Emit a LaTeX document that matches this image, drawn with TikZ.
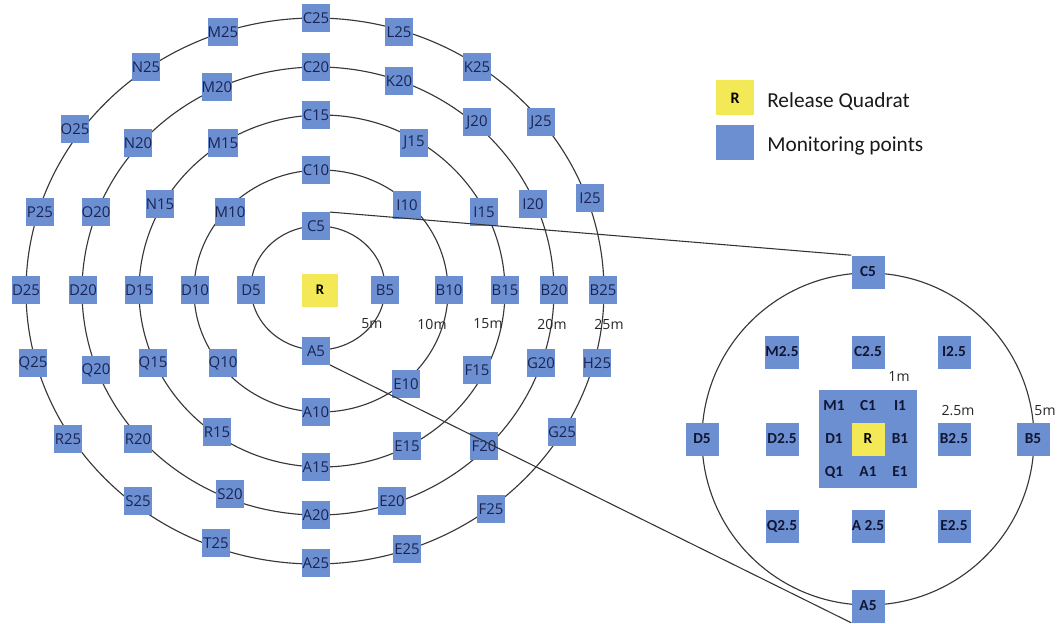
\documentclass[tikz,border=0pt]{standalone}
\usepackage{fontspec}
\setmainfont{Carlito}
\newfontfamily\ptfont{Open Sans}
\definecolor{ptblue}{RGB}{108,143,209}
\definecolor{relyellow}{RGB}{243,233,86}
\definecolor{ptnavy}{RGB}{26,36,84}

\begin{document}
\begin{tikzpicture}[x=0.75pt,y=0.75pt,yscale=-1,xscale=1,
  ring/.style={line width=0.85pt,draw=black!78},
  link/.style={line width=0.8pt,draw=black!80},
  mpt/.style={fill=ptblue,text=ptnavy,inner sep=0pt,minimum width=20.5pt,minimum height=20.5pt,font=\ptfont\fontsize{11.2}{13}\selectfont},
  ipt/.style={fill=ptblue,text=ptnavy!60!black,inner sep=0pt,minimum size=24.75pt,font=\bfseries\fontsize{11.5}{13}\selectfont},
  ilab/.style={text=ptnavy!60!black,inner sep=0pt,font=\bfseries\fontsize{11.5}{13}\selectfont},
  dist/.style={text=black!85,inner sep=0pt,font=\ptfont\fontsize{10.5}{12}\selectfont}]
\useasboundingbox (0,0) rectangle (1060,624);

%Shape: Ellipse [rings 5m .. 25m]
\draw[ring] (318,288) ellipse [x radius=67, y radius=62];
\draw[ring] (321,291) ellipse [x radius=127, y radius=121];
\draw[ring] (322,291) ellipse [x radius=183, y radius=176];
\draw[ring] (318,291) ellipse [x radius=236, y radius=224];
\draw[ring] (315,291) ellipse [x radius=289, y radius=273];
%Shape: Circle [zoomed 5m ring]
\draw[ring] (868,439) circle [radius=166];

% Release quadrat
\node[fill=relyellow,inner sep=0pt,minimum width=27pt,minimum height=24.75pt,font=\bfseries\fontsize{11}{13}\selectfont] (rel) at (320,290) {R};

% Text Node [5m]
\node[mpt] (C5) at (316,226) {C5};
\node[mpt] (B5) at (385,290) {B5};
\node[mpt] (A5) at (316,351) {A5};
\node[mpt] (D5) at (251,290) {D5};

% Text Node [10m]
\node[mpt] (C10) at (316,170) {C10};
\node[mpt] (I10) at (407,205) {I10};
\node[mpt] (B10) at (449,290) {B10};
\node[mpt] (E10) at (406,384) {E10};
\node[mpt] (A10) at (316,412) {A10};
\node[mpt] (Q10) at (223,363) {Q10};
\node[mpt] (D10) at (195,290) {D10};
\node[mpt] (M10) at (230,212) {M10};

% Text Node [15m]
\node[mpt] (C15) at (316,115) {C15};
\node[mpt] (J15) at (414,143) {J15};
\node[mpt] (I15) at (484,212) {I15};
\node[mpt] (B15) at (505,290) {B15};
\node[mpt] (F15) at (477,370) {F15};
\node[mpt] (E15) at (407,446) {E15};
\node[mpt] (A15) at (316,467) {A15};
\node[mpt] (R15) at (217,432) {R15};
\node[mpt] (Q15) at (153,363) {Q15};
\node[mpt] (D15) at (139,290) {D15};
\node[mpt] (N15) at (160,204) {N15};
\node[mpt] (M15) at (223,143) {M15};

% Text Node [20m]
\node[mpt] (C20) at (316,67) {C20};
\node[mpt] (K20) at (399,81) {K20};
\node[mpt] (J20) at (477,122) {J20};
\node[mpt] (I20) at (533,204) {I20};
\node[mpt] (B20) at (554,290) {B20};
\node[mpt] (G20) at (541,363) {G20};
\node[mpt] (F20) at (484,446) {F20};
\node[mpt] (E20) at (392,501) {E20};
\node[mpt] (A20) at (316,515) {A20};
\node[mpt] (S20) at (230,494) {S20};
\node[mpt] (R20) at (138,439) {R20};
\node[mpt] (Q20) at (96,370) {Q20};
\node[mpt] (D20) at (83,290) {D20};
\node[mpt] (O20) at (96,212) {O20};
\node[mpt] (N20) at (138,143) {N20};
\node[mpt] (M20) at (217,87) {M20};

% Text Node [25m]
\node[mpt] (C25) at (316,18) {C25};
\node[mpt] (L25) at (399,32) {L25};
\node[mpt] (K25) at (477,67) {K25};
\node[mpt] (J25) at (541,122) {J25};
\node[mpt] (I25) at (590,198) {I25};
\node[mpt] (B25) at (603,290) {B25};
\node[mpt] (H25) at (597,363) {H25};
\node[mpt] (G25) at (562,432) {G25};
\node[mpt] (F25) at (491,509) {F25};
\node[mpt] (E25) at (407,549) {E25};
\node[mpt] (A25) at (316,563) {A25};
\node[mpt] (T25) at (216,543) {T25};
\node[mpt] (S25) at (138,501) {S25};
\node[mpt] (R25) at (68,439) {R25};
\node[mpt] (Q25) at (33,363) {Q25};
\node[mpt] (D25) at (26,290) {D25};
\node[mpt] (P25) at (40,212) {P25};
\node[mpt] (O25) at (75,129) {O25};
\node[mpt] (N25) at (146,67) {N25};
\node[mpt] (M25) at (223,32) {M25};

% Text Node [distances]
\node[dist] (d5) at (372,324) {5m};
\node[dist] (d10) at (432,324) {10m};
\node[dist] (d15) at (488,324) {15m};
\node[dist] (d20) at (552,324) {20m};
\node[dist] (d25) at (609,324) {25m};

% Text Node [zoomed quadrat]
\node[fill=ptblue,inner sep=0pt,minimum size=73.5pt] (iSq) at (868,439) {};
\node[fill=relyellow,inner sep=0pt,minimum size=24.75pt,font=\bfseries\fontsize{11.5}{13}\selectfont] (iR) at (868,439) {R};
\node[ilab] (iM1) at (834,406) {M1};
\node[ilab] (iC1) at (868,406) {C1};
\node[ilab] (iI1) at (900,406) {I1};
\node[ilab] (iD1) at (834,439) {D1};
\node[ilab] (iB1) at (900,439) {B1};
\node[ilab] (iQ1) at (834,472) {Q1};
\node[ilab] (iA1) at (868,472) {A1};
\node[ilab] (iE1) at (900,472) {E1};

\node[ipt] (iM2) at (782,352) {M2.5};
\node[ipt] (iC2) at (868,352) {C2.5};
\node[ipt] (iI2) at (954,352) {I2.5};
\node[ipt] (iD2) at (782,439) {D2.5};
\node[ipt] (iB2) at (954,439) {B2.5};
\node[ipt] (iQ2) at (782,526) {Q2.5};
\node[ipt] (iA2) at (868,526) {A 2.5};
\node[ipt] (iE2) at (954,526) {E2.5};

\node[ipt] (iC5) at (868,272) {C5};
\node[ipt] (iB5) at (1033,439) {B5};
\node[ipt] (iA5) at (868,606) {A5};
\node[ipt] (iD5) at (702,439) {D5};

\node[dist] (i1m) at (899,377) {1m};
\node[dist] (i2m) at (958,411) {2.5m};
\node[dist] (i5m) at (1045,411) {5m};

%Straight Lines [zoom]
\draw[link] (C5.north east) -- (iC5.north west);
\draw[link] (A5.south east) -- (iA5.south west);

% Legend
\node[fill=relyellow,inner sep=0pt,minimum width=28.5pt,minimum height=26.25pt,font=\bfseries\fontsize{12}{14}\selectfont] (keyR) at (735,98) {R};
\node[fill=ptblue,inner sep=0pt,minimum width=28.5pt,minimum height=26.25pt] (keyM) at (735,143) {};
\node[anchor=base west,inner sep=0pt,text=black!90,font=\fontsize{16}{19}\selectfont] (keyRt) at (767,108) {Release Quadrat};
\node[anchor=base west,inner sep=0pt,text=black!90,font=\fontsize{16}{19}\selectfont] (keyMt) at (767,152) {Monitoring points};

\end{tikzpicture}
\end{document}
